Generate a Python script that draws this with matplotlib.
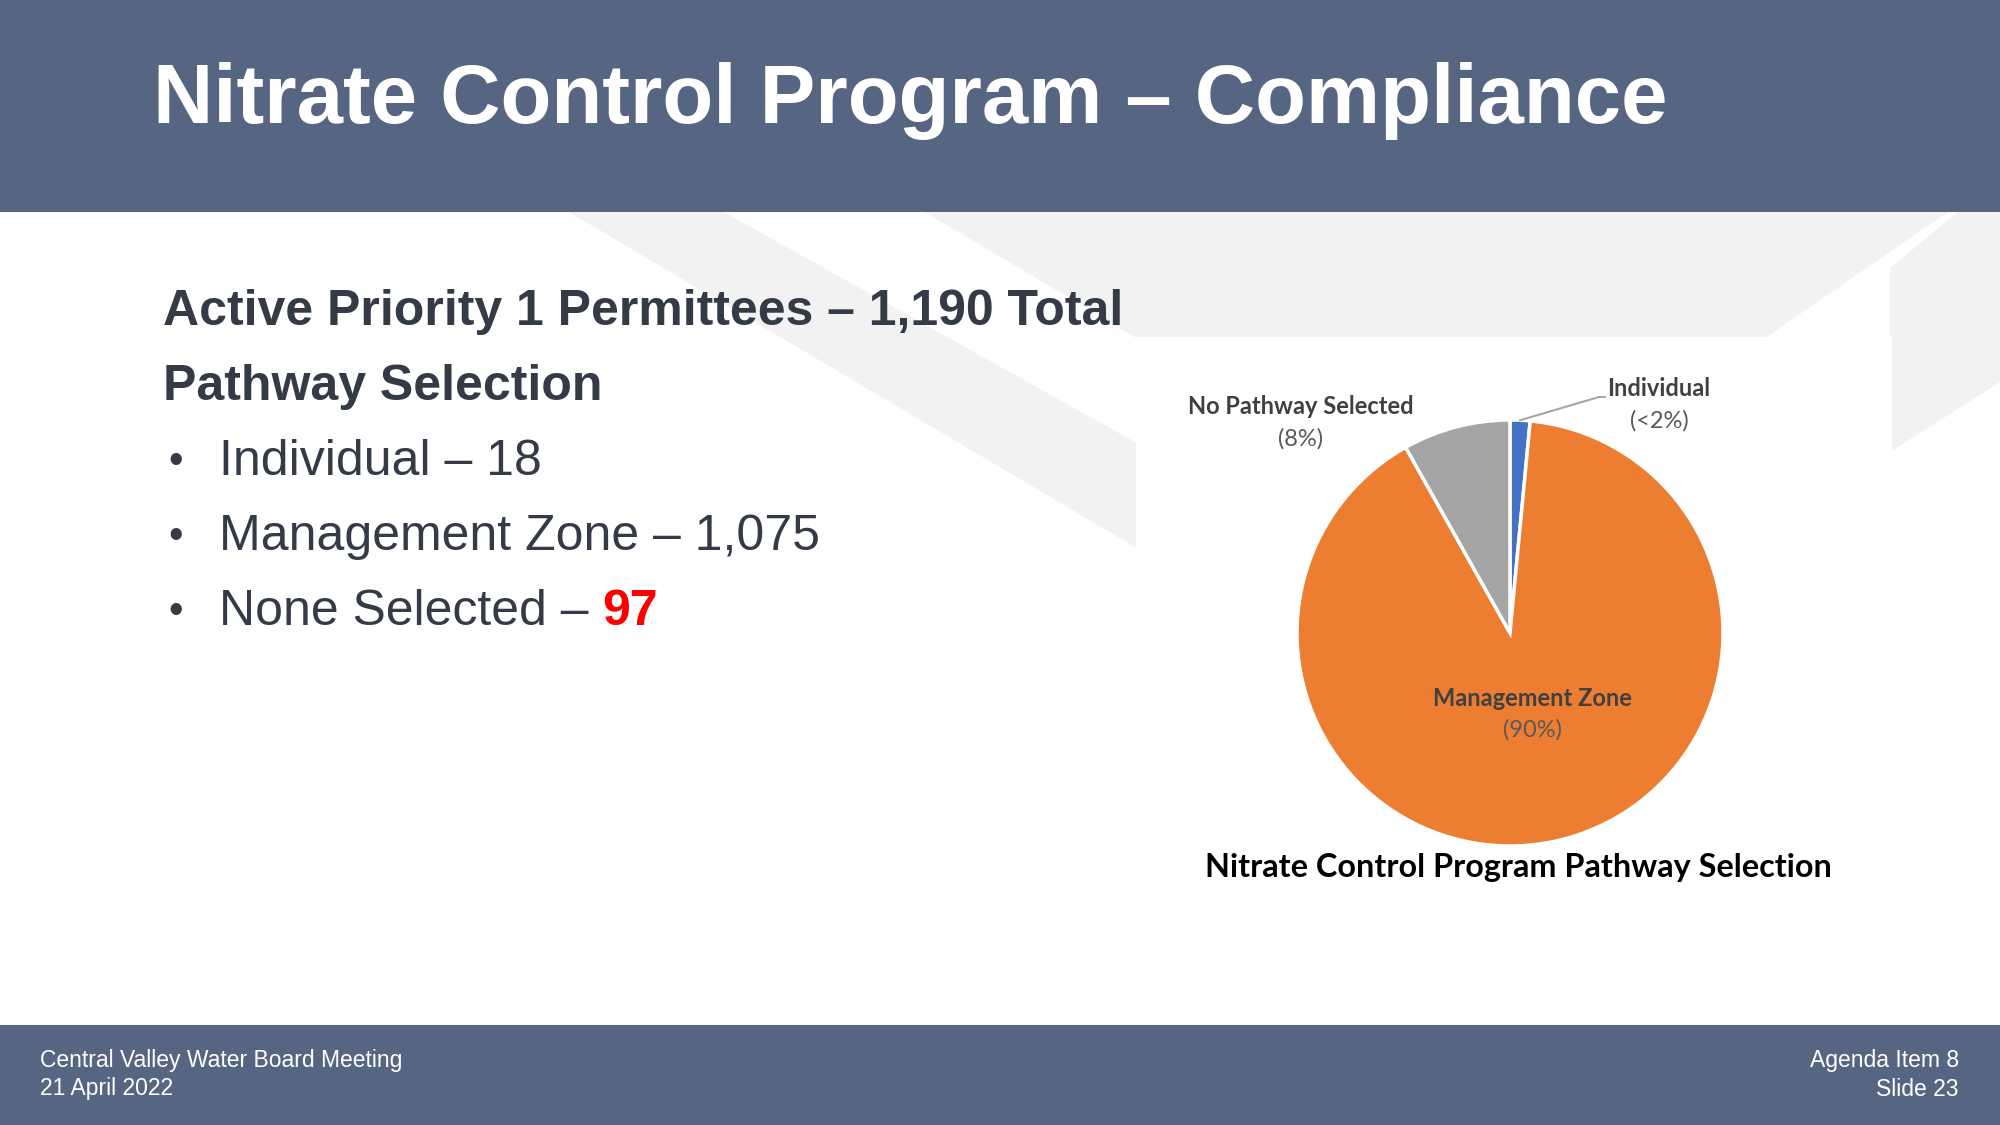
import matplotlib
matplotlib.use("Agg")
import matplotlib.pyplot as plt
from matplotlib.patches import Polygon, Rectangle
import numpy as np

# slide text
title = "Nitrate Control Program \u2013 Compliance"
heading1 = "Active Priority 1 Permittees \u2013 1,190 Total"
heading2 = "Pathway Selection"
bullets = ["Individual \u2013 18", "Management Zone \u2013 1,075", "None Selected \u2013 "]
highlight = "97"
footer_left = ["Central Valley Water Board Meeting", "21 April 2022"]
footer_right = ["Agenda Item 8", "Slide 23"]

# pie data
categories = ["Individual", "Management Zone", "No Pathway Selected"]
counts = [18, 1075, 97]
colors = ["#4472C4", "#ED7D31", "#A5A5A5"]
chart_title = "Nitrate Control Program Pathway Selection"

band = "#556582"
dark = "#343b47"
swoosh = "#f2f2f2"

fig = plt.figure(figsize=(20, 11.25), dpi=100)
ax = fig.add_axes([0, 0, 1, 1])
ax.set_xlim(0, 2000)
ax.set_ylim(1125, 0)
ax.axis("off")

# background swooshes
ax.add_patch(Polygon([(569, 212), (724, 212), (1140, 445), (1140, 550)], closed=True, fc=swoosh, ec="none", zorder=0))
ax.add_patch(Polygon([(925, 212), (1948, 212), (1762, 340), (1140, 340)], closed=True, fc=swoosh, ec="none", zorder=0))
ax.add_patch(Polygon([(1958, 212), (2000, 212), (2000, 382), (1890, 452), (1890, 268)], closed=True, fc=swoosh, ec="none", zorder=0))

# header / footer bands
ax.add_patch(Rectangle((0, 0), 2000, 212, fc=band, ec="none", zorder=1))
ax.add_patch(Rectangle((0, 1025), 2000, 100, fc=band, ec="none", zorder=1))

ax.text(153, 101, title, color="white", fontsize=60, fontweight="bold",
        family="Liberation Sans", va="center", ha="left", zorder=3)

for i, t in enumerate(footer_left):
    ax.text(40, 1060 + i * 29, t, color="white", fontsize=16.5, family="Liberation Sans",
            va="center", ha="left", zorder=3)
for i, t in enumerate(footer_right):
    ax.text(1959, 1060 + i * 29, t, color="white", fontsize=16.5, family="Liberation Sans",
            va="center", ha="right", zorder=3)

# left text block
ax.text(163, 312, heading1, color=dark, fontsize=36, fontweight="bold",
        family="Liberation Sans", va="center", ha="left", zorder=3)
ax.text(163, 387, heading2, color=dark, fontsize=36, fontweight="bold",
        family="Liberation Sans", va="center", ha="left", zorder=3)
last = None
for i, b in enumerate(bullets):
    y = 462 + i * 75
    ax.text(168, y, "\u2022", color=dark, fontsize=30, family="Liberation Sans",
            va="center", ha="left", zorder=3)
    last = ax.text(219, y, b, color=dark, fontsize=36, family="Liberation Sans",
                   va="center", ha="left", zorder=3)
ax.annotate(highlight, xy=(1, 0), xycoords=last, color="#ff0000", fontsize=36,
            fontweight="bold", family="Liberation Sans", va="bottom", ha="left", zorder=3)

# chart panel
ax.add_patch(Rectangle((1136, 337), 756, 590, fc="white", ec="none", zorder=1))

cx, cy, r = 1510, 633, 213
wedges, _ = ax.pie(counts, colors=colors, startangle=-90, counterclock=True,
                   center=(cx, cy), radius=r, frame=True,
                   wedgeprops=dict(edgecolor="white", linewidth=2.5))
for w in wedges:
    w.set_zorder(2)
ax.set_xlim(0, 2000)
ax.set_ylim(1125, 0)
ax.set_aspect("auto")
ax.axis("off")

total = sum(counts)
def pct_label(v):
    f = v / total * 100
    if f < 2:
        return "(<2%)"
    return "(%d%%)" % round(f)

label_pos = {"Individual": (1659, 389), "Management Zone": (1532, 698),
             "No Pathway Selected": (1301, 407)}
lab_font = "Lato"
for name, v in zip(categories, counts):
    x, y = label_pos[name]
    ax.text(x, y, name, color="#404040", fontsize=17, fontweight="bold", family=lab_font,
            ha="center", va="center", zorder=4)
    ax.text(x, y + 32, pct_label(v), color="#595959", fontsize=17, family=lab_font,
            ha="center", va="center", zorder=4)

# leader line for the small slice
w0 = wedges[0]
mid = np.deg2rad((w0.theta1 + w0.theta2) / 2)
sx, sy = cx + r * np.cos(mid), cy + r * np.sin(mid)
ax.plot([sx, 1599, 1605], [sy, 397, 397], color="#a6a6a6", lw=1.5, zorder=3)

ax.text(1518, 867, chart_title, color="black", fontsize=23.3, fontweight="bold",
        family=lab_font, ha="center", va="center", zorder=4)

fig.savefig("out.png", dpi=100)
